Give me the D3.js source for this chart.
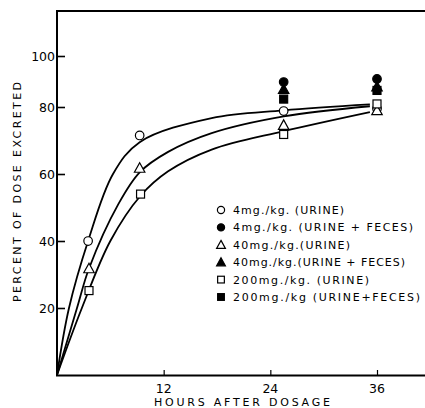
<!DOCTYPE html>
<html><head><meta charset="utf-8">
<script src="https://cdn.jsdelivr.net/npm/d3@7"></script>
<style>body{margin:0;background:#fff}svg{display:block}</style>
</head><body><svg id="c" width="425" height="408"></svg>
<script>
// ---- data ----
const xTicks = [12, 24, 36];
const yTicks = [20, 40, 60, 80, 100];
const xTitle = "HOURS AFTER DOSAGE";
const yTitle = "PERCENT OF DOSE EXCRETED";

const seriesNames = ["4mg./kg. (URINE)", "4mg./kg. (URINE + FECES)", "40mg./kg.(URINE)",
  "40mg./kg.(URINE + FECES)", "200mg./kg. (URINE)", "200mg./kg (URINE+FECES)"];
const seriesShapes = ["circle", "circle", "triangle", "triangle", "square", "square"];
const seriesFilled = [false, true, false, true, false, true];

const urine4Hours = [3.5, 9.3, 25.5, 36];
const urine4Values = [40, 71.5, 78.8, 79.5];
const total4Hours = [25.5, 36];
const total4Values = [89.8, 91];
const urine40Hours = [3.6, 9.3, 25.5, 36];
const urine40Values = [31.8, 61.8, 74.6, 79];
const total40Hours = [25.5, 36];
const total40Values = [87, 88];
const urine200Hours = [3.6, 9.4, 25.5, 36];
const urine200Values = [25.2, 54, 71.8, 81.2];
const total200Hours = [25.5, 36];
const total200Values = [83.1, 86.5];

// fitted curves as drawn (hours, percent)
const curve4Hours = [0, 1.35, 3.5, 6.3, 9.3, 17.4, 25.5, 35.2];
const curve4Values = [0, 20, 40, 60, 69.5, 76.7, 79, 81];
const curve40Hours = [0, 2.25, 3.6, 6.9, 9.3, 12.5, 17.4, 25.5, 35.2];
const curve40Values = [0, 20, 31.8, 51, 60.5, 66.6, 72.2, 77.2, 80.3];
const curve200Hours = [0, 2.8, 6, 9.4, 12.5, 17.4, 25.5, 35.2];
const curve200Values = [0, 20, 40, 53.5, 60.8, 67.3, 72.8, 78.5];

// ---- chart ----
const svg = d3.select("#c");
const x = d3.scaleLinear().domain([0, 41.4]).range([57, 425]);
const y = d3.scaleLinear().domain([0, 80, 100]).range([375, 107, 56]);
const font = "'DejaVu Sans', sans-serif";

const seriesHours = [urine4Hours, total4Hours, urine40Hours, total40Hours, urine200Hours, total200Hours];
const seriesValues = [urine4Values, total4Values, urine40Values, total40Values, urine200Values, total200Values];
const curves = [[curve4Hours, curve4Values], [curve40Hours, curve40Values], [curve200Hours, curve200Values]];

// frame
svg.append("line").attr("x1", 56).attr("x2", 425).attr("y1", 11).attr("y2", 11)
  .attr("stroke", "#000").attr("stroke-width", 2);

// axes
const gx = svg.append("g").attr("transform", "translate(0,375)")
  .call(d3.axisTop(x).tickValues(xTicks).tickSize(5).tickFormat(""));
gx.select(".domain").remove();
svg.append("line").attr("x1", 56).attr("x2", 425).attr("y1", 375.5).attr("y2", 375.5)
  .attr("stroke", "#000").attr("stroke-width", 2);
gx.selectAll(".tick line").attr("stroke-width", 1.2);
svg.append("g").selectAll("text").data(xTicks).join("text")
  .attr("x", d => x(d)).attr("y", 393).attr("text-anchor", "middle")
  .attr("font-family", font).attr("font-size", 12.5).text(d => d);

const gy = svg.append("g").attr("transform", "translate(57,0)")
  .call(d3.axisRight(y).tickValues(yTicks).tickSize(8).tickFormat(""));
gy.select(".domain").remove();
gy.selectAll(".tick line").attr("stroke-width", 1.6);
svg.append("line").attr("x1", 57).attr("x2", 57).attr("y1", 10).attr("y2", 376)
  .attr("stroke", "#000").attr("stroke-width", 2);
svg.append("g").selectAll("text").data(yTicks).join("text")
  .attr("x", 55).attr("y", d => y(d) + 4.5).attr("text-anchor", "end")
  .attr("font-family", font).attr("font-size", 12.5).text(d => d);

svg.append("text").attr("x", 242).attr("y", 406).attr("text-anchor", "middle")
  .attr("font-family", font).attr("font-size", 11).attr("textLength", 176)
  .attr("lengthAdjust", "spacing").text(xTitle);
svg.append("text").attr("transform", "translate(21,192) rotate(-90)").attr("text-anchor", "middle")
  .attr("font-family", font).attr("font-size", 11).attr("textLength", 220)
  .attr("lengthAdjust", "spacing").text(yTitle);

// curves
const line = d3.line().x(d => x(d[0])).y(d => y(d[1])).curve(d3.curveCatmullRom.alpha(0.5));
curves.forEach(([h, v]) => {
  svg.append("path").attr("d", line(h.map((t, i) => [t, v[i]])))
    .attr("fill", "none").attr("stroke", "#000").attr("stroke-width", 1.8);
});

// markers
function marker(g, shape, filled, cx, cy, s) {
  let el;
  if (shape === "circle") el = g.append("circle").attr("cx", cx).attr("cy", cy).attr("r", s * 0.45);
  else if (shape === "square") el = g.append("rect").attr("x", cx - s * 0.42).attr("y", cy - s * 0.42)
    .attr("width", s * 0.84).attr("height", s * 0.84);
  else el = g.append("path").attr("d", `M${cx},${cy - s * 0.55}L${cx + s * 0.55},${cy + s * 0.45}L${cx - s * 0.55},${cy + s * 0.45}Z`);
  el.attr("fill", filled ? "#000" : "#fff").attr("stroke", "#000").attr("stroke-width", 1.2);
}
const gm = svg.append("g");
[0, 2, 4, 5, 3, 1].forEach(si => {
  seriesHours[si].forEach((t, i) => marker(gm, seriesShapes[si], seriesFilled[si], x(t), y(seriesValues[si][i]), 9.5));
});

// legend
const lg = svg.append("g");
const legendEnds = [344, 413, 350, 405, 369, 420];
seriesNames.forEach((n, i) => {
  const yy = 210 + i * 17.4;
  marker(lg, seriesShapes[i], seriesFilled[i], 221, yy, 8);
  lg.append("text").attr("x", 233).attr("y", yy + 4).attr("font-family", font).attr("font-size", 11)
    .attr("textLength", legendEnds[i] - 233).attr("lengthAdjust", "spacing").text(n);
});
</script></body></html>
